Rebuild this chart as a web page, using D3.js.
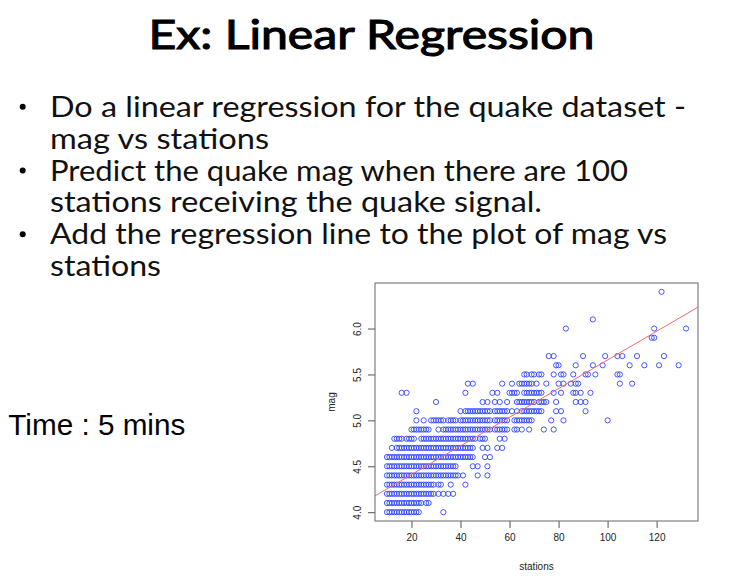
<!DOCTYPE html>
<html>
<head>
<meta charset="utf-8">
<script src="https://cdn.jsdelivr.net/npm/d3@7"></script>
<style>
  html, body { margin: 0; padding: 0; background: #fff; }
  svg { display: block; }
</style>
</head>
<body>
<div id="slide"></div>
<script>
const st40 = [10,11,12,13,14,15,16,17,18,19,20,21,22,23,33];
const st41 = [10,11,12,13,14,15,16,17,18,19,20,21,22,23,24,26,27];
const st42 = [10,11,12,13,14,15,16,17,18,19,20,21,22,23,24,25,26,27,28,29,31,33,35,37];
const st43 = [10,11,12,13,14,15,16,17,18,19,20,21,22,23,24,25,26,27,28,29,31,32,36,42];
const st44 = [10,11,12,13,14,15,16,17,18,19,20,21,22,23,24,25,26,27,28,29,30,31,32,33,34,35,36,37,38,39,41,47,51];
const st45 = [10,11,12,13,14,15,16,17,18,19,20,21,22,23,24,25,26,27,28,29,30,31,32,33,34,35,36,37,38,45,47,51];
const st46 = [10,11,12,13,14,15,16,17,18,19,20,21,22,23,24,25,26,27,28,29,30,31,32,33,34,35,36,37,38,39,40,41,42,43,44,45,50,52];
const st47 = [12,14,15,16,17,18,19,20,21,22,23,24,25,26,27,28,29,30,31,32,33,34,35,36,37,38,39,40,41,42,43,44,45,49,51,55,57];
const st48 = [13,14,15,16,18,19,20,21,24,25,26,27,28,29,30,31,32,33,34,35,36,37,38,39,40,41,42,43,44,45,46,48,49,50,56,58];
const st49 = [20,21,22,23,24,25,26,27,31,33,34,35,36,37,38,39,40,41,42,43,44,45,46,47,48,49,50,51,52,54,55,56,57,58,59,62,63,65,68,74,78];
const st50 = [22,25,28,29,30,31,32,33,35,36,37,38,40,41,42,43,44,45,46,47,48,49,50,51,52,54,55,56,57,58,59,62,63,64,65,66,67,68,69,77,82,100];
const st51 = [22,40,42,43,44,45,46,47,48,49,50,51,52,54,55,56,57,58,59,61,63,65,66,67,68,69,70,71,72,73,79,81,91];
const st52 = [30,49,51,54,56,59,63,64,65,66,67,68,69,70,72,73,74,75,79,87,89,91];
const st53 = [16,18,42,53,55,60,61,62,63,66,67,68,69,70,71,72,73,78,81,86,87,89,93];
const st54 = [43,45,57,61,64,65,66,67,68,69,71,75,80,82,85,87,88,105,110];
const st55 = [66,67,69,70,72,73,78,81,82,86,91,92,95,104,105];
const st56 = [79,80,87,94,98,109,115,121,129];
const st57 = [76,78,90,99,104,106,112,123];
const st59 = [118,119];
const st60 = [83,119,132];
const st61 = [94];
const st64 = [122];

const magLevels = [4.0, 4.1, 4.2, 4.3, 4.4, 4.5, 4.6, 4.7, 4.8, 4.9, 5.0, 5.1, 5.2, 5.3, 5.4, 5.5, 5.6, 5.7, 5.9, 6.0, 6.1, 6.4];
const stationRows = [st40, st41, st42, st43, st44, st45, st46, st47, st48, st49, st50, st51, st52, st53, st54, st55, st56, st57, st59, st60, st61, st64];

// lm(mag ~ stations) coefficients
const fitIntercept = 4.0978;
const fitSlope = 0.0156;

const xTicks = [20, 40, 60, 80, 100, 120];
const yTicks = [4.0, 4.5, 5.0, 5.5, 6.0];

const titleText = "Ex: Linear Regression";
const bulletLines = [
  { text: "Do a linear regression for the quake dataset -", bullet: true, len: 636 },
  { text: "mag vs stations", bullet: false, len: 219 },
  { text: "Predict the quake mag when there are 100", bullet: true, len: 578 },
  { text: "stations receiving the quake signal.", bullet: false, len: 492 },
  { text: "Add the regression line to the plot of mag vs", bullet: true, len: 617 },
  { text: "stations", bullet: false, len: 111 }
];
const timeText = "Time : 5 mins";

const points = [];
magLevels.forEach((m, i) => {
  stationRows[i].forEach(s => points.push({ stations: s, mag: m }));
});

const W = 730, H = 586;
const svg = d3.select("#slide").append("svg")
  .attr("width", W)
  .attr("height", H);

svg.append("rect").attr("width", W).attr("height", H).attr("fill", "#fff");

const slideFont = "Lato, 'Noto Sans', sans-serif";

// title - regular weight plus a thin outline, closer to the rounded bold of the slide
svg.append("text")
  .attr("x", 148.5)
  .attr("y", 48.5)
  .attr("font-family", slideFont)
  .attr("font-size", 40)
  .attr("textLength", 446)
  .attr("lengthAdjust", "spacingAndGlyphs")
  .attr("fill", "#000")
  .attr("stroke", "#000")
  .attr("stroke-width", 1.1)
  .text(titleText);

// bullets
const lineY = d3.scaleLinear().domain([0, 1]).range([116.7, 148.6]);
bulletLines.forEach((d, i) => {
  const y = lineY(i);
  if (d.bullet) {
    svg.append("circle")
      .attr("cx", 22.7)
      .attr("cy", y - 10)
      .attr("r", 3)
      .attr("fill", "#000");
  }
  svg.append("text")
    .attr("x", 50)
    .attr("y", y)
    .attr("font-family", slideFont)
    .attr("font-size", 28)
    .attr("textLength", d.len)
    .attr("lengthAdjust", "spacingAndGlyphs")
    .attr("fill", "#111")
    .text(d.text);
});

svg.append("text")
  .attr("x", 8.3)
  .attr("y", 435)
  .attr("font-family", "'Liberation Sans', Arial, sans-serif")
  .attr("font-size", 30)
  .attr("textLength", 177)
  .attr("lengthAdjust", "spacingAndGlyphs")
  .attr("fill", "#000")
  .text(timeText);

// plot
const box = { left: 375, right: 698, top: 283, bottom: 521 };

const x = d3.scaleLinear()
  .domain([5.12, 136.88])
  .range([box.left, box.right]);

const y = d3.scaleLinear()
  .domain([3.904, 6.496])
  .range([box.bottom, box.top]);

const axisFont = "'Liberation Sans', Arial, sans-serif";

svg.append("clipPath").attr("id", "plotClip")
  .append("rect")
  .attr("x", box.left).attr("y", box.top)
  .attr("width", box.right - box.left)
  .attr("height", box.bottom - box.top);

svg.append("g")
  .attr("clip-path", "url(#plotClip)")
  .selectAll("circle")
  .data(points)
  .enter().append("circle")
  .attr("cx", d => x(d.stations))
  .attr("cy", d => y(d.mag))
  .attr("r", 2.6)
  .attr("fill", "none")
  .attr("stroke", "#2f45ff")
  .attr("stroke-width", 0.9);

// regression line
const xd = x.domain();
svg.append("line")
  .attr("clip-path", "url(#plotClip)")
  .attr("x1", x(xd[0]))
  .attr("y1", y(fitIntercept + fitSlope * xd[0]))
  .attr("x2", x(xd[1]))
  .attr("y2", y(fitIntercept + fitSlope * xd[1]))
  .attr("stroke", "#f26a6a")
  .attr("stroke-width", 1);

// x axis
const gx = svg.append("g")
  .attr("transform", `translate(0,${box.bottom})`)
  .call(d3.axisBottom(x).tickValues(xTicks).tickSize(7).tickPadding(6).tickFormat(d3.format("d")));
gx.select(".domain").remove();
gx.selectAll("line").attr("stroke", "#555");
gx.selectAll("text")
  .attr("font-family", axisFont)
  .attr("font-size", 10)
  .attr("fill", "#222");

// y axis, labels rotated like R's default
const gy = svg.append("g")
  .attr("transform", `translate(${box.left},0)`)
  .call(d3.axisLeft(y).tickValues(yTicks).tickSize(7).tickFormat(d3.format(".1f")));
gy.select(".domain").remove();
gy.selectAll("line").attr("stroke", "#555");
gy.selectAll("text")
  .attr("font-family", axisFont)
  .attr("font-size", 10)
  .attr("fill", "#222")
  .attr("x", null)
  .attr("dy", null)
  .attr("text-anchor", "middle")
  .attr("transform", "translate(-14.5,0) rotate(-90)");

// box
svg.append("rect")
  .attr("x", box.left)
  .attr("y", box.top)
  .attr("width", box.right - box.left)
  .attr("height", box.bottom - box.top)
  .attr("fill", "none")
  .attr("stroke", "#666")
  .attr("stroke-width", 1);

svg.append("text")
  .attr("x", (box.left + box.right) / 2)
  .attr("y", 569.5)
  .attr("text-anchor", "middle")
  .attr("font-family", axisFont)
  .attr("font-size", 10)
  .attr("fill", "#222")
  .text("stations");

svg.append("text")
  .attr("transform", `translate(335,${(box.top + box.bottom) / 2}) rotate(-90)`)
  .attr("text-anchor", "middle")
  .attr("font-family", axisFont)
  .attr("font-size", 10)
  .attr("fill", "#222")
  .text("mag");
</script>
</body>
</html>
